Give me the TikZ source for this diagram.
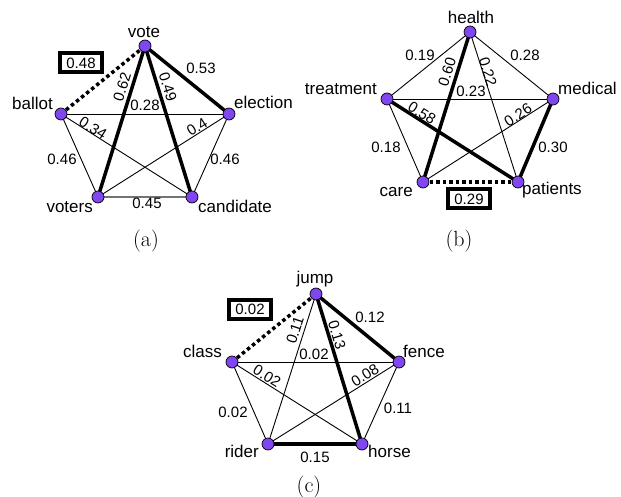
\documentclass[tikz,border=0pt]{standalone}
\usepackage{fontspec}
\newfontfamily\arialf{Liberation Sans}
\usetikzlibrary{backgrounds}
\definecolor{nodepurple}{RGB}{128,70,240}
\tikzset{
  vtx/.style={circle, draw=black, line width=0.7pt, fill=nodepurple, minimum size=12pt, inner sep=0pt},
  nlab/.style={font=\fontsize{17}{19}\arialf, inner sep=0pt},
  elab/.style={font=\fontsize{15}{17}\arialf, inner sep=0pt, anchor=base},
  rlab/.style={font=\fontsize{15}{17}\arialf, inner sep=0pt, anchor=center},
  thinedge/.style={line width=0.9pt},
  grayedge/.style={line width=1.4pt, draw=black!55},
  thickedge/.style={line width=3.5pt},
  dotedge/.style={line width=3.5pt, dash pattern=on 3.5pt off 3pt},
  boxlab/.style={draw, line width=4pt, font=\fontsize{15}{17}\arialf, minimum width=42pt, minimum height=19pt, inner sep=0pt},
  captxt/.style={font=\fontsize{22}{24}\selectfont, inner sep=0pt}
}
\begin{document}
\begin{tikzpicture}[x=1pt,y=-1pt]
\useasboundingbox (0,0) rectangle (621,497);
% ---------------- panel (a)
\node[vtx] (vote) at (145,46) {};
\node[vtx] (ballot) at (61,114) {};
\node[vtx] (election) at (229,114) {};
\node[vtx] (voters) at (98,197) {};
\node[vtx] (candidate) at (192,197) {};
\begin{pgfonlayer}{background}
\draw[thinedge] (ballot.center) -- (election.center);
\draw[thinedge] (ballot.center) -- (candidate.center);
\draw[thinedge] (ballot.center) -- (voters.center);
\draw[thinedge] (election.center) -- (voters.center);
\draw[thinedge] (election.center) -- (candidate.center);
\draw[grayedge] (voters.center) -- (candidate.center);
\draw[thickedge] (vote.center) -- (election.center);
\draw[thickedge] (vote.center) -- (voters.center);
\draw[thickedge] (vote.center) -- (candidate.center);
\draw[dotedge] (ballot.center) -- (vote.center);
\end{pgfonlayer}
\node[nlab, anchor=base] (tvote) at (144,38) {vote};
\node[nlab, anchor=base east] (tballot) at (53,110) {ballot};
\node[nlab, anchor=base west] (telection) at (234,109) {election};
\node[nlab, anchor=base east] (tvoters) at (93,213) {voters};
\node[nlab, anchor=base west] (tcandidate) at (198,213) {candidate};
\node[boxlab] (bxa) at (81,63) {0.48};
\node[elab] (la1) at (201,74) {0.53};
\node[rlab, rotate=72.7] (la2) at (122,87) {0.62};
\node[rlab, rotate=-72.7] (la3) at (168,87) {0.49};
\node[elab] (la4) at (145,111) {0.28};
\node[rlab, rotate=-32.4] (la5) at (93,128) {0.34};
\node[rlab, rotate=32.4] (la6) at (197,127) {0.4};
\node[elab] (la7) at (62,165) {0.46};
\node[elab] (la8) at (225,165) {0.46};
\node[elab] (la9) at (147,208) {0.45};
\node[captxt] (capa) at (146,241) {(a)};
% ---------------- panel (b)
\node[vtx] (health) at (470,32) {};
\node[vtx] (treatment) at (387,99) {};
\node[vtx] (medical) at (553,99) {};
\node[vtx] (care) at (423,182) {};
\node[vtx] (patients) at (518,182) {};
\begin{pgfonlayer}{background}
\draw[thinedge] (health.center) -- (treatment.center);
\draw[thinedge] (health.center) -- (medical.center);
\draw[thinedge] (health.center) -- (patients.center);
\draw[thinedge] (treatment.center) -- (medical.center);
\draw[thinedge] (treatment.center) -- (care.center);
\draw[thinedge] (care.center) -- (medical.center);
\draw[thickedge] (health.center) -- (care.center);
\draw[thickedge] (treatment.center) -- (patients.center);
\draw[thickedge] (medical.center) -- (patients.center);
\draw[dotedge] (care.center) -- (patients.center);
\end{pgfonlayer}
\node[nlab, anchor=base] (thealth) at (471,24) {health};
\node[nlab, anchor=base east] (ttreatment) at (377,95) {treatment};
\node[nlab, anchor=base west] (tmedical) at (558,95) {medical};
\node[nlab, anchor=base east] (tcare) at (413,197) {care};
\node[nlab, anchor=base west] (tpatients) at (522,195) {patients};
\node[boxlab] (bxb) at (469,199) {0.29};
\node[elab] (lb1) at (420,61) {0.19};
\node[elab] (lb2) at (525,61) {0.28};
\node[rlab, rotate=72.6] (lb3) at (447,72) {0.60};
\node[rlab, rotate=-72.6] (lb4) at (488,72) {0.22};
\node[elab] (lb5) at (471,97) {0.23};
\node[rlab, rotate=-32.4] (lb6) at (422,113) {0.58};
\node[rlab, rotate=32.6] (lb7) at (518,115) {0.26};
\node[elab] (lb8) at (386,153) {0.18};
\node[elab] (lb9) at (553,153) {0.30};
\node[captxt] (capb) at (459,241) {(b)};
% ---------------- panel (c)
\node[vtx] (jump) at (316,294) {};
\node[vtx] (class) at (232,362) {};
\node[vtx] (fence) at (399,362) {};
\node[vtx] (rider) at (268,444) {};
\node[vtx] (horse) at (362,444) {};
\begin{pgfonlayer}{background}
\draw[thinedge] (jump.center) -- (rider.center);
\draw[thinedge] (class.center) -- (fence.center);
\draw[thinedge] (class.center) -- (horse.center);
\draw[thinedge] (class.center) -- (rider.center);
\draw[thinedge] (rider.center) -- (fence.center);
\draw[thinedge] (fence.center) -- (horse.center);
\draw[thickedge] (jump.center) -- (fence.center);
\draw[thickedge] (jump.center) -- (horse.center);
\draw[thickedge] (rider.center) -- (horse.center);
\draw[dotedge] (class.center) -- (jump.center);
\end{pgfonlayer}
\node[nlab, anchor=base] (tjump) at (315,283) {jump};
\node[nlab, anchor=base east] (tclass) at (222,357) {class};
\node[nlab, anchor=base west] (tfence) at (403,357) {fence};
\node[nlab, anchor=base east] (trider) at (259,457) {rider};
\node[nlab, anchor=base west] (thorse) at (368,457) {horse};
\node[boxlab] (bxc) at (250,309) {0.02};
\node[rlab, rotate=72] (lc1) at (295,330) {0.11};
\node[rlab, rotate=-73] (lc2) at (337,335) {0.13};
\node[elab] (lc3) at (370,322) {0.12};
\node[elab] (lc4) at (314,359) {0.02};
\node[rlab, rotate=-32] (lc5) at (267,376) {0.02};
\node[rlab, rotate=32] (lc6) at (365,375) {0.08};
\node[elab] (lc7) at (233,417) {0.02};
\node[elab] (lc8) at (398,413) {0.11};
\node[elab] (lc9) at (315,462) {0.15};
\node[captxt] (capc) at (309,487) {(c)};
\end{tikzpicture}
\end{document}
